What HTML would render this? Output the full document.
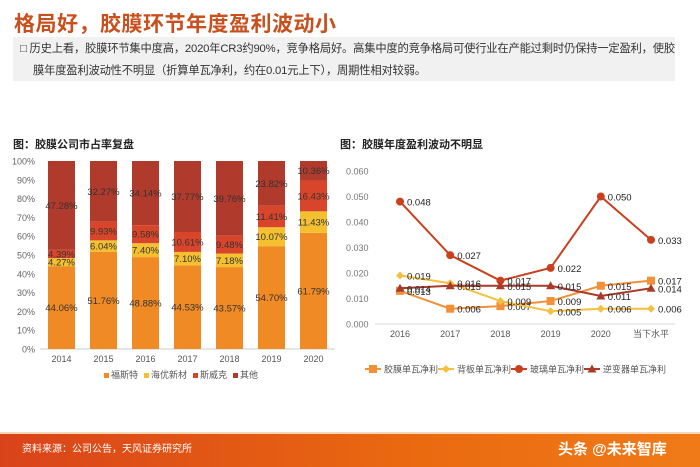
<!DOCTYPE html>
<html><head><meta charset="utf-8"><style>
body{margin:0;width:700px;height:467px;overflow:hidden;background:#fff;font-family:"Liberation Sans","Noto Sans CJK SC",sans-serif;position:relative}
.abs{position:absolute}
</style></head><body>
<div class="abs" style="left:14px;top:8px;font-size:21px;color:#c8501e;font-weight:bold;letter-spacing:0.5px">格局好，胶膜环节年度盈利波动小</div>
<div class="abs" style="left:13px;top:37px;width:662px;height:44px;background:#f1f1f1"></div>
<div class="abs" style="left:20px;top:38px;font-size:11.3px;line-height:22px;color:#333;white-space:nowrap;letter-spacing:-0.2px">□ 历史上看，胶膜环节集中度高，2020年CR3约90%，竞争格局好。高集中度的竞争格局可使行业在产能过剩时仍保持一定盈利，使胶<br><span style="padding-left:13px">膜年度盈利波动性不明显（折算单瓦净利，约在0.01元上下），周期性相对较弱。</span></div>
<div class="abs" style="left:13px;top:136px;font-size:11px;font-weight:bold;color:#222">图：胶膜公司市占率复盘</div>
<div class="abs" style="left:340px;top:136px;font-size:11px;font-weight:bold;color:#222">图：胶膜年度盈利波动不明显</div>
<svg class="abs" style="left:0;top:0" width="700" height="467" id="svg">
<defs><linearGradient id="g" x1="0" x2="1"><stop offset="0" stop-color="#d9431a"/><stop offset="0.6" stop-color="#ea6a10"/><stop offset="1" stop-color="#f07a18"/></linearGradient></defs>
<rect x="0" y="434" width="700" height="33" fill="url(#g)"/>
<rect x="0" y="432" width="700" height="2" fill="#f6d7b8"/>
<text x="22" y="452" font-size="10" fill="#fff">资料来源：公司公告，天风证券研究所</text>
<text x="558" y="454" font-size="15" font-weight="bold" fill="#fff">头条 @未来智库</text>
<g id="left"></g><g id="right"></g>
</svg>
<script>
const years=["2014","2015","2016","2017","2018","2019","2020"];
const fst=[44.06,51.76,48.88,44.53,43.57,54.70,61.79];
const hy=[4.27,6.04,7.40,7.10,7.18,10.07,11.43];
const swk=[4.39,9.93,9.58,10.61,9.48,11.41,16.43];
const other=[47.28,32.27,34.14,37.77,39.76,23.82,10.36];
const barNames=["福斯特","海优新材","斯威克","其他"];
const barColors=["#f08a24","#f5c030","#d9452a","#b03a2c"];
const lx=["2016","2017","2018","2019","2020","当下水平"];
const jm=[0.013,0.006,0.007,0.009,0.015,0.017];
const bb=[0.019,0.016,0.009,0.005,0.006,0.006];
const bl=[0.048,0.027,0.017,0.022,0.050,0.033];
const nb=[0.014,0.015,0.015,0.015,0.011,0.014];
const lineNames=["胶膜单瓦净利","背板单瓦净利","玻璃单瓦净利","逆变器单瓦净利"];
const lineColors=["#f0913a","#f5c040","#c9401f","#a83a2a"];
const NS="http://www.w3.org/2000/svg";
function mk(p,t,a,txt){const e=document.createElementNS(NS,t);for(const k in a)e.setAttribute(k,a[k]);if(txt!==undefined)e.textContent=txt;p.appendChild(e);return e;}
const L=document.getElementById('left');
const yB=v=>349-v*1.88, xB=i=>61.5+i*42;
for(let t=0;t<=100;t+=10){const e=mk(L,'text',{x:35,y:yB(t)+3.5,'font-size':9,fill:'#666','text-anchor':'end'},t+'%');

}
mk(L,'line',{x1:40,x2:335,y1:349,y2:349,stroke:'#ccc'});
const series=[fst,hy,swk,other];
years.forEach((y,i)=>{let base=0;series.forEach((s,k)=>{const v=s[i];const r=mk(L,'rect',{x:xB(i)-13.5,y:yB(base+v),width:27,height:v*1.88,fill:barColors[k]});


const t=mk(L,'text',{x:xB(i),y:yB(base+v/2)+3.5,'font-size':9.5,fill:'#333','text-anchor':'middle'},v.toFixed(2)+'%');


base+=v;});
const xl=mk(L,'text',{x:xB(i),y:362,'font-size':9,fill:'#555','text-anchor':'middle'},y);

});
let lgx=104;
barNames.forEach((n,k)=>{mk(L,'rect',{x:lgx,y:373,width:5,height:5,fill:barColors[k]});const t=mk(L,'text',{x:lgx+7,y:378,'font-size':9,fill:'#555'},n);


lgx+=7+n.length*9+6;});
const R=document.getElementById('right');
const yL=v=>324-v*2550, xL=i=>400+i*50.2;
for(let t=0;t<=6;t++){const e=mk(R,'text',{x:346,y:yL(t/100)+3.5,'font-size':9,fill:'#777'},(t/100).toFixed(3));

}
mk(R,'line',{x1:375,x2:675,y1:324,y2:324,stroke:'#ddd'});
lx.forEach((c,i)=>{const t=mk(R,'text',{x:xL(i),y:337,'font-size':9,fill:'#555','text-anchor':'middle'},c);

});
function marker(p,k,x,y){const c=lineColors[k];if(k==0)return mk(p,'rect',{x:x-4,y:y-4,width:8,height:8,fill:c});if(k==1)return mk(p,'path',{d:`M${x} ${y-4}L${x+4} ${y}L${x} ${y+4}L${x-4} ${y}Z`,fill:c});if(k==2)return mk(p,'circle',{cx:x,cy:y,r:4,fill:c});return mk(p,'path',{d:`M${x} ${y-4.5}L${x+4.5} ${y+3.5}L${x-4.5} ${y+3.5}Z`,fill:c});}
[jm,bb,bl,nb].forEach((s,k)=>{const pl=mk(R,'polyline',{points:s.map((v,i)=>xL(i)+','+yL(v)).join(' '),fill:'none',stroke:lineColors[k],'stroke-width':2});


s.forEach((v,i)=>{const m=marker(R,k,xL(i),yL(v));


const t=mk(R,'text',{x:xL(i)+7,y:yL(v)+4,'font-size':9.5,fill:'#222'},v.toFixed(3));

});});
lineNames.forEach((n,k)=>{const x=365+k*73;mk(R,'line',{x1:x,x2:x+16,y1:369,y2:369,stroke:lineColors[k],'stroke-width':2});marker(R,k,x+8,369);const t=mk(R,'text',{x:x+19,y:372.5,'font-size':9,fill:'#555'},n);

});
</script>
</body></html>
